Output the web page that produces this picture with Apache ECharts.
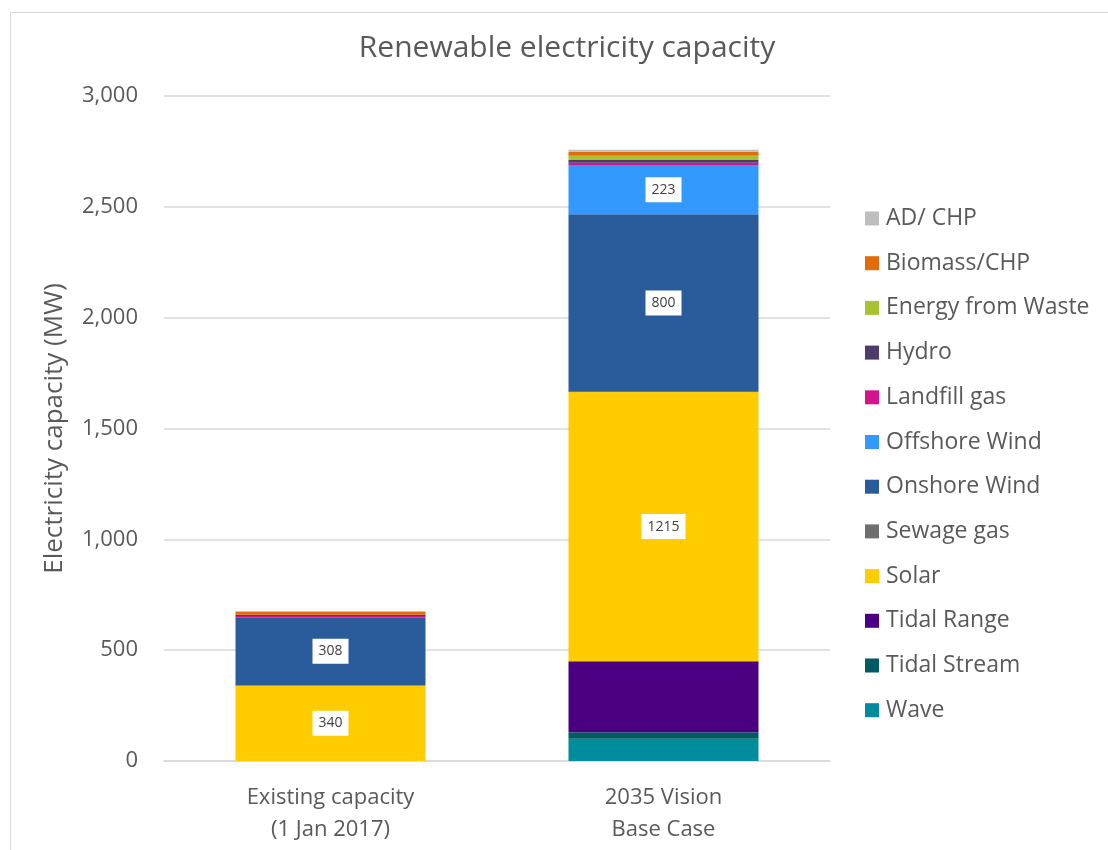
<!DOCTYPE html>
<html>
<head>
<meta charset="utf-8">
<script src="https://cdn.jsdelivr.net/npm/echarts@6/dist/echarts.min.js"></script>
<style>
html,body{margin:0;padding:0;background:#fff;}
#chart{width:1108px;height:850px;}
</style>
</head>
<body>
<div id="chart"></div>
<script>
const categories = ['Existing capacity\n(1 Jan 2017)', '2035 Vision\nBase Case'];
const yTicks = [0, 500, 1000, 1500, 2000, 2500, 3000];

// stack order bottom -> top
const wave         = [0, 100];
const tidalStream  = [0, 30];
const tidalRange   = [0, 320];
const solar        = [340, 1215];
const sewageGas    = [1, 1];
const onshoreWind  = [308, 800];
const offshoreWind = [0, 223];
const landfillGas  = [5, 10];
const hydro        = [6, 12];
const energyWaste  = [0, 20];
const biomassCHP   = [13, 17];
const adCHP        = [4, 9];

const seriesDefs = [
  {name: 'Wave', data: wave, color: '#008C9D', label: false},
  {name: 'Tidal Stream', data: tidalStream, color: '#005B63', label: false},
  {name: 'Tidal Range', data: tidalRange, color: '#4B0082', label: false},
  {name: 'Solar', data: solar, color: '#FFCC00', label: true},
  {name: 'Sewage gas', data: sewageGas, color: '#6E6E6E', label: false},
  {name: 'Onshore Wind', data: onshoreWind, color: '#2A5C9C', label: true},
  {name: 'Offshore Wind', data: offshoreWind, color: '#3399FF', label: true},
  {name: 'Landfill gas', data: landfillGas, color: '#D4148C', label: false},
  {name: 'Hydro', data: hydro, color: '#4E3B6B', label: false},
  {name: 'Energy from Waste', data: energyWaste, color: '#A8C232', label: false},
  {name: 'Biomass/CHP', data: biomassCHP, color: '#E36C0A', label: false},
  {name: 'AD/ CHP', data: adCHP, color: '#BFBFBF', label: false}
];

const legendOrder = seriesDefs.map(s => s.name).slice().reverse();
const fontFam = '"Open Sans", "Noto Sans", sans-serif';
const txt = '#595959';

const chart = echarts.init(document.getElementById('chart'), null, {renderer: 'canvas'});
chart.setOption({
  animation: false,
  backgroundColor: '#fff',
  graphic: [{
    type: 'rect', left: 8, top: 10, z: -10, silent: true,
    shape: {width: 1120, height: 860},
    style: {fill: 'none', stroke: '#D9D9D9', lineWidth: 1}
  }],
  title: {
    text: 'Renewable electricity capacity',
    left: 562, textAlign: 'center', top: 28,
    textStyle: {fontFamily: fontFam, fontSize: 30, fontWeight: 'normal', color: txt}
  },
  legend: {
    orient: 'vertical', left: 860, top: 202,
    data: legendOrder,
    itemWidth: 14, itemHeight: 14, itemGap: 21.7,
    icon: 'rect',
    textStyle: {fontFamily: fontFam, fontSize: 23, color: txt, padding: [0,0,0,2]}
  },
  grid: {left: 164, right: 278, top: 96, bottom: 89, containLabel: false},
  xAxis: {
    type: 'category', data: categories,
    axisLine: {lineStyle: {color: '#D9D9D9', width: 1.5}},
    axisTick: {show: false},
    axisLabel: {fontFamily: fontFam, fontSize: 22, color: txt, margin: 21, lineHeight: 32}
  },
  yAxis: {
    type: 'value', min: yTicks[0], max: yTicks[yTicks.length-1], interval: 500,
    name: 'Electricity capacity (MW)', nameLocation: 'middle', nameGap: 96,
    nameTextStyle: {fontFamily: fontFam, fontSize: 26, color: txt},
    axisLine: {show: false}, axisTick: {show: false},
    splitLine: {lineStyle: {color: '#D9D9D9', width: 1.5}},
    axisLabel: {fontFamily: fontFam, fontSize: 22, color: txt, margin: 26,
      formatter: v => v.toLocaleString('en-US')}
  },
  series: seriesDefs.map(s => ({
    name: s.name, type: 'bar', stack: 'total', barWidth: 190,
    itemStyle: {color: s.color},
    data: s.data.map(v => ({value: v, label: {show: s.label && v > 0}})),
    label: {
      position: 'inside',
      backgroundColor: '#FFFFFF', padding: [6, 6, 5, 6],
      fontFamily: fontFam, fontSize: 14, color: '#404040'
    }
  }))
});
</script>
</body>
</html>
